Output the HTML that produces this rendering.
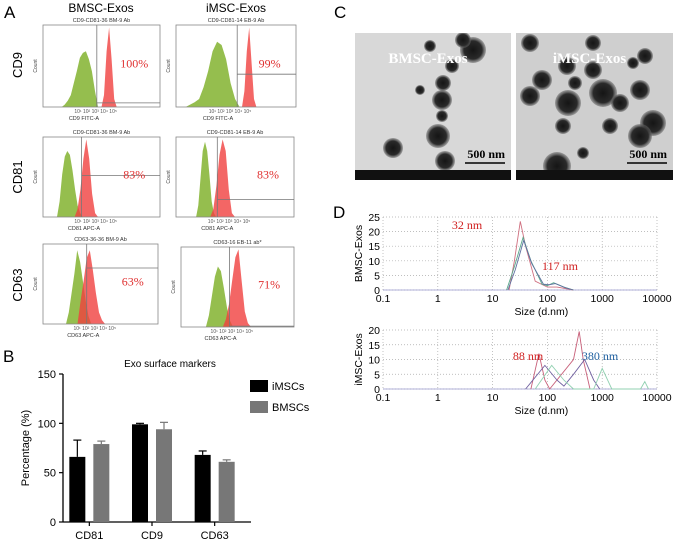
<!DOCTYPE html>
<html><head><meta charset="utf-8"><style>
body{margin:0;background:#fff;}
svg{display:block;font-family:"Liberation Sans",sans-serif;}
.ser{font-family:"Liberation Serif",serif;}
</style></head><body>
<svg id="fig" width="677" height="546" viewBox="0 0 677 546">
<defs>
<radialGradient id="dot" cx="50%" cy="50%" r="50%"><stop offset="0" stop-color="#151515"/><stop offset="0.7" stop-color="#2a2a2a"/><stop offset="1" stop-color="#666" stop-opacity="0.5"/></radialGradient>
<clipPath id="cp0"><rect x="355" y="33" width="156" height="137"/></clipPath>
<clipPath id="cp1"><rect x="516" y="33" width="157" height="137"/></clipPath>
</defs>
<g id="panelA"></g>
<g id="panelB"></g>
<g id="panelC"></g>
<g id="panelD"></g>
</svg>
<script>
// ---------- Panel B data ----------
const barCategories = ["CD81","CD9","CD63"];
const seriesNames = ["iMSCs","BMSCs"];
const iMSCValues = [66, 99, 68];
const iMSCErrors = [17, 1, 4];
const BMSCValues = [79, 94, 61];
const BMSCErrors = [3, 7, 2];
const yTicks = [0, 50, 100, 150];

// ---------- Panel A data (histogram bin heights, 0-1 of box) ----------
const histTitles = ["CD9-CD81-36 BM-9 Ab","CD9-CD81-14 EB-9 Ab","CD9-CD81-36 BM-9 Ab","CD9-CD81-14 EB-9 Ab","CD63-36-36 BM-9 Ab","CD63-16 EB-11 ab*"];
const histPercent = ["100%","99%","83%","83%","63%","71%"];
const greenBins = [
 [0,0.03,0.08,0.15,0.3,0.45,0.62,0.68,0.7,0.6,0.45,0.2,0],
 [0,0.03,0.06,0.1,0.25,0.45,0.7,0.82,0.78,0.6,0.3,0.1,0],
 [0,0.2,0.55,0.78,0.85,0.8,0.6,0.35,0.15,0.05,0],
 [0,0.15,0.5,0.85,0.97,0.85,0.55,0.2,0.05,0],
 [0,0.15,0.4,0.65,0.95,0.8,0.55,0.3,0.1,0],
 [0,0.15,0.4,0.65,0.78,0.72,0.5,0.25,0.08,0]
];
const greenRange = [[0.16,0.47],[0.08,0.53],[0.12,0.34],[0.17,0.34],[0.2,0.42],[0.22,0.46]];
const redBins = [
 [0,0.15,0.7,1.0,0.6,0.1,0],
 [0,0.2,0.7,1.0,0.55,0.1,0],
 [0,0.1,0.35,0.75,1.0,0.75,0.3,0.05,0],
 [0,0.1,0.4,0.8,1.0,0.85,0.35,0.05,0],
 [0,0.3,0.55,0.85,0.95,0.7,0.4,0.15,0.05,0],
 [0,0.1,0.3,0.6,0.9,1.0,0.6,0.2,0.05,0]
];
const redRange = [[0.5,0.63],[0.55,0.67],[0.27,0.47],[0.29,0.5],[0.3,0.54],[0.37,0.62]];
const gateX = [0.46,0.51,0.33,0.35,0.38,0.43];
const gateY = [0.95,0.6,0.48,0.78,0.3,0.99];

// ---------- Panel D data ----------
const dlsXTicks = [0.1, 1, 10, 100, 1000, 10000];
const topYTicks = [0,5,10,15,20,25];
const botYTicks = [0,5,10,15,20];
const topRedSize = [20,25,32,40,60,100,150,300];
const topRedInt  = [0,10,23.5,15,3,1,1,0];
const topGreenSize = [18,25,36,50,80,100,130,200,300];
const topGreenInt  = [0,8,18,10,2,1.5,2.5,1,0];
const topBlueSize = [19,26,37,52,85,110,140,210,300];
const topBlueInt  = [0,7,17,9,2,1.8,2.2,0.8,0];
const botRedSize = [50,70,90,110,300,380,450,600];
const botRedInt  = [0,12,3,0,10,19.5,10,0];
const botPurpleSize = [40,90,150,200,300,480,700,900];
const botPurpleInt  = [0,8,3,1,5,10,3,0];
const botGreenSize = [60,120,200,300,700,1000,1500,5000,6000,7000];
const botGreenInt  = [0,8,3,0,0,7,0,0,2.5,0];

const NS="http://www.w3.org/2000/svg";
function mk(parent,tag,attrs,text){const e=document.createElementNS(NS,tag);for(const k in attrs)e.setAttribute(k,attrs[k]);if(text!==undefined)e.textContent=text;parent.appendChild(e);return e;}

// ====== Panel A ======
const A=document.getElementById('panelA');
let t;
t=mk(A,'text',{x:4,y:18,'font-size':17});t.textContent='A';


t=mk(A,'text',{x:101,y:12,'font-size':12,'text-anchor':'middle'},'BMSC-Exos');


t=mk(A,'text',{x:236,y:12,'font-size':12,'text-anchor':'middle'},'iMSC-Exos');


const rowNames=["CD9","CD81","CD63"];
const rowCy=[65,177,285];
rowNames.forEach((n,i)=>{const e=mk(A,'text',{x:22,y:rowCy[i],'font-size':13,'text-anchor':'middle',transform:`rotate(-90 22 ${rowCy[i]})`},n);

});
const boxes=[[43,25,117,82],[176,25,120,82],[43,137,117,80],[176,137,118,80],[43,244,115,80],[181,247,113,80]];
const xLabels=["CD9 FITC-A","CD9 FITC-A","CD81 APC-A","CD81 APC-A","CD63 APC-A","CD63 APC-A"];
boxes.forEach((b,i)=>{
 const [x,y,w,h]=b;
 const g=mk(A,'g',{});
 
 
 mk(g,'text',{x:x+w/2,y:y-3,'font-size':5.5,'text-anchor':'middle',fill:'#333'},histTitles[i]);
 function poly(bins,range,fill,op){
   const x0=x+range[0]*w,x1=x+range[1]*w;let pts=[];
   bins.forEach((v,k)=>{pts.push((x0+(x1-x0)*k/(bins.length-1)).toFixed(1)+','+(y+h-v*h*0.97).toFixed(1));});
   return mk(g,'polygon',{points:pts.join(' '),fill:fill,'fill-opacity':op});}
 const gp=poly(greenBins[i],greenRange[i],'#8fba45',0.95);
 
 
 const rp=poly(redBins[i],redRange[i],'#f0403f',0.8);
 
 
 mk(g,'rect',{x:x,y:y,width:w,height:h,fill:'none',stroke:'#888','stroke-width':0.8});
 mk(g,'line',{x1:x+gateX[i]*w,y1:y,x2:x+gateX[i]*w,y2:y+h,stroke:'#777','stroke-width':0.8});
 mk(g,'line',{x1:x+gateX[i]*w,y1:y+gateY[i]*h,x2:x+w,y2:y+gateY[i]*h,stroke:'#777','stroke-width':0.8});
 const pt=mk(g,'text',{x:x+w*0.78,y:y+h*0.52,'font-size':12,'text-anchor':'middle',fill:'#e03030',class:'ser'},histPercent[i]);
 
 
 mk(g,'text',{x:x+w*0.35,y:y+h+13,'font-size':5.5,'text-anchor':'middle',fill:'#333'},xLabels[i]);
 mk(g,'text',{x:x+w*0.45,y:y+h+6,'font-size':5,'text-anchor':'middle',fill:'#555'},'10¹      10²        10³         10⁴       10⁵');
 mk(g,'text',{x:x-6,y:y+h/2,'font-size':5,'text-anchor':'middle',fill:'#444',transform:`rotate(-90 ${x-6} ${y+h/2})`},'Count');
});

// ====== Panel B ======
const B=document.getElementById('panelB');
const bx0=63,bx1=251,by0=522,byTop=374,bMax=150;
const ys=v=>by0-(v/bMax)*(by0-byTop);
t=mk(B,'text',{x:3,y:362,'font-size':17},'B');


t=mk(B,'text',{x:170,y:367,'font-size':10,'text-anchor':'middle'},'Exo surface markers');


mk(B,'line',{x1:bx0,y1:byTop,x2:bx0,y2:by0,stroke:'#000','stroke-width':1.3});
mk(B,'line',{x1:bx0,y1:by0,x2:bx1,y2:by0,stroke:'#000','stroke-width':1.3});
yTicks.forEach(v=>{mk(B,'line',{x1:bx0-4,y1:ys(v),x2:bx0,y2:ys(v),stroke:'#000','stroke-width':1.2});
 const e=mk(B,'text',{x:bx0-7,y:ys(v)+4,'font-size':11,'text-anchor':'end'},String(v));
 
 });
t=mk(B,'text',{x:29,y:448,'font-size':11,'text-anchor':'middle',transform:'rotate(-90 29 448)'},'Percentage (%)');


const groupW=(bx1-bx0)/barCategories.length, barW=16;
barCategories.forEach((c,i)=>{
 const cx=bx0+groupW*(i+0.5)-5;
 mk(B,'line',{x1:cx,y1:by0,x2:cx,y2:by0+4,stroke:'#000','stroke-width':1.2});
 const e=mk(B,'text',{x:cx,y:539,'font-size':11,'text-anchor':'middle'},c);
 
 
 [[iMSCValues,iMSCErrors,'#000',-barW-4],[BMSCValues,BMSCErrors,'#777',4]].forEach(([vals,errs,col,off],s)=>{
  const bx=cx+off,top=ys(vals[i]);
  const r=mk(B,'rect',{x:bx,y:top,width:barW,height:by0-top,fill:col});
  
  
  const et=ys(vals[i]+errs[i]);
  mk(B,'line',{x1:bx+barW/2,y1:top,x2:bx+barW/2,y2:et,stroke:col,'stroke-width':1.2});
  mk(B,'line',{x1:bx+barW/2-4,y1:et,x2:bx+barW/2+4,y2:et,stroke:col,'stroke-width':1.2});
 });
});
seriesNames.forEach((n,i)=>{
 const g=mk(B,'g',{});
 
 
 mk(g,'rect',{x:250,y:380+i*21,width:18,height:12,fill:i?'#777':'#000'});
 mk(g,'text',{x:272,y:390+i*21,'font-size':11},n);
});

// ====== Panel C ======
const C=document.getElementById('panelC');
t=mk(C,'text',{x:334,y:18,'font-size':17},'C');


const imgs=[[355,33,156,"BMSC-Exos",[[118,17,13],[108,7,8],[97,33,7],[88,50,8],[87,67,10],[87,83,6],[83,103,12],[90,128,10],[38,115,10],[65,57,5],[75,13,6]]],
 [516,33,157,"iMSC-Exos",[[14,10,9],[14,63,10],[26,47,10],[51,33,9],[77,37,9],[87,60,14],[52,70,13],[59,50,7],[104,70,9],[124,57,10],[129,23,8],[117,30,6],[137,90,13],[124,103,12],[94,93,8],[47,93,8],[67,120,6],[41,133,14],[77,10,8]]]];
imgs.forEach(([x,y,w,label,dots],k)=>{
 const g=mk(C,'g',{});
 
 
 mk(g,'rect',{x:x,y:y,width:w,height:147,fill:k?'#cfcfcf':'#d8d8d8'});
 const dg=mk(g,'g',{'clip-path':`url(#cp${k})`});
 dots.forEach(d=>mk(dg,'circle',{cx:x+d[0],cy:y+d[1],r:d[2],fill:'url(#dot)'}));
 mk(g,'text',{x:x+w/2-5,y:y+30,'font-size':15,'font-weight':'bold',fill:'#fff','text-anchor':'middle',class:'ser'},label);
 mk(g,'text',{x:x+w-6,y:y+125,'font-size':12,'font-weight':'bold',fill:'#000','text-anchor':'end',class:'ser'},'500 nm');
 mk(g,'line',{x1:x+w-46,y1:y+130,x2:x+w-6,y2:y+130,stroke:'#000','stroke-width':1.5});
 mk(g,'rect',{x:x,y:y+137,width:w,height:10,fill:'#111'});
});

// ====== Panel D ======
const D=document.getElementById('panelD');
t=mk(D,'text',{x:333,y:218,'font-size':17},'D');


const dx0=383,dx1=657;
const xs=v=>dx0+(Math.log10(v)+1)/5*(dx1-dx0);
function dls(top,bot,yMax,yT,label,series){
 const g=mk(D,'g',{});
 
 
 const yy=v=>bot-(v/yMax)*(bot-top);
 dlsXTicks.forEach(v=>mk(g,'line',{x1:xs(v),y1:top,x2:xs(v),y2:bot,stroke:'#aaa','stroke-width':0.7,'stroke-dasharray':'1,2'}));
 yT.forEach(v=>{mk(g,'line',{x1:dx0,y1:yy(v),x2:dx1,y2:yy(v),stroke:'#aaa','stroke-width':0.7,'stroke-dasharray':'1,2'});
  mk(g,'text',{x:dx0-3,y:yy(v)+4,'font-size':10.5,'text-anchor':'end'},String(v));});
 mk(g,'line',{x1:dx0,y1:bot,x2:dx1,y2:bot,stroke:'#99c','stroke-width':0.8});
 dlsXTicks.forEach(v=>mk(g,'text',{x:xs(v),y:bot+12,'font-size':10.5,'text-anchor':'middle'},String(v)));
 mk(g,'text',{x:xs(100)-6,y:bot+25,'font-size':10.5,'text-anchor':'middle'},'Size (d.nm)');
 const cy=(top+bot)/2;
 mk(g,'text',{x:362,y:cy,'font-size':10.5,'text-anchor':'middle',transform:`rotate(-90 362 ${cy})`},label);
 series.forEach(([sz,iv,col,name])=>{
  const p=mk(g,'polyline',{points:sz.map((s,k)=>xs(s).toFixed(1)+','+yy(iv[k]).toFixed(1)).join(' '),fill:'none',stroke:col,'stroke-width':0.9});
  
  
 });
}
dls(217,290,25,topYTicks,'BMSC-Exos',[[topRedSize,topRedInt,'#d07080','size-distribution-red'],[topGreenSize,topGreenInt,'#5aa88a','size-distribution-green'],[topBlueSize,topBlueInt,'#6070a0','size-distribution-blue']]);
dls(330,389,20,botYTicks,'iMSC-Exos',[[botRedSize,botRedInt,'#c8607a','size-distribution-red'],[botPurpleSize,botPurpleInt,'#7060a0','size-distribution-purple'],[botGreenSize,botGreenInt,'#90d0b0','size-distribution-green']]);
[[467,229,'32 nm','#d02020'],[560,270,'117 nm','#d02020'],[528,360,'88 nm','#d02020'],[600,360,'380  nm','#2060a0']].forEach(([x,y,s,c])=>{
 const e=mk(D,'text',{x:x,y:y,'font-size':12,'text-anchor':'middle',fill:c,class:'ser'},s);
 
 
});
</script>
</body></html>
